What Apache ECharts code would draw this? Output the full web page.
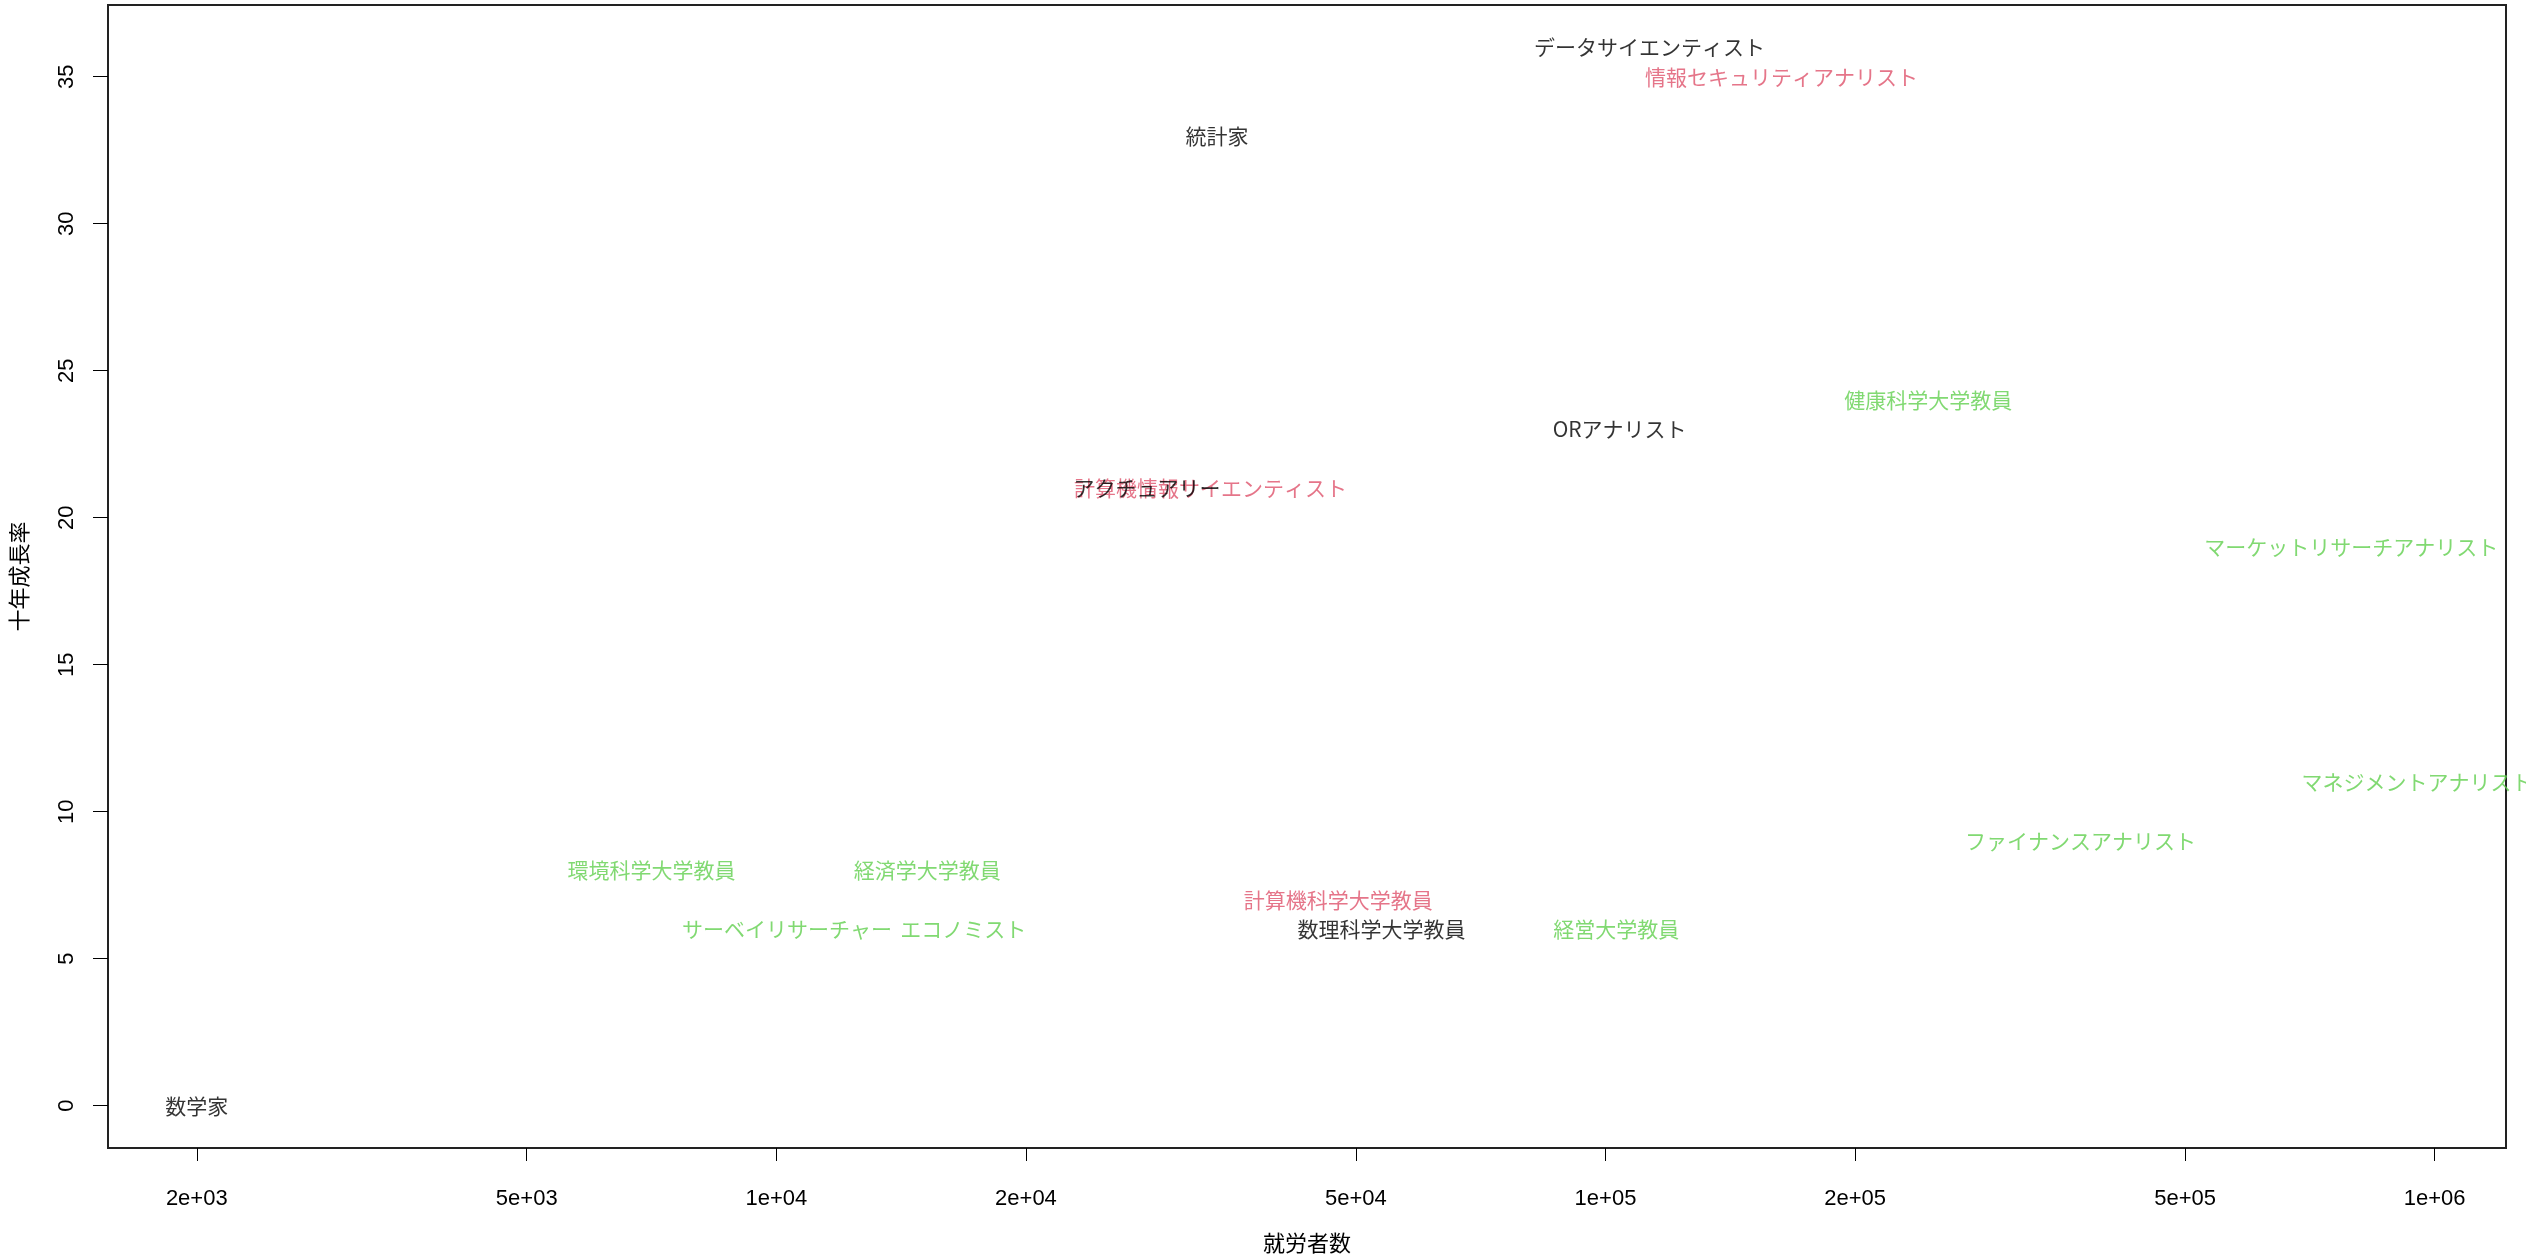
<!DOCTYPE html>
<html>
<head>
<meta charset="utf-8">
<title>就労者数と十年成長率</title>
<script src="https://cdn.jsdelivr.net/npm/echarts@6/dist/echarts.min.js"></script>
<style>
  html, body { margin: 0; padding: 0; background: #fff; }
  #view { width: 2526px; height: 1259px; }
</style>
</head>
<body>
<div id="view"></div>
<script>
// 職業ごとの就労者数（対数）と十年成長率
var blackJobs = ["データサイエンティスト", "統計家", "ORアナリスト", "アクチュアリー", "数理科学大学教員", "数学家"];
var blackWorkers = [113000, 34000, 104000, 28000, 53700, 2000];
var blackGrowth = [36, 33, 23, 21, 6, 0];

var pinkJobs = ["情報セキュリティアナリスト", "計算機情報サイエンティスト", "計算機科学大学教員"];
var pinkWorkers = [163000, 33400, 47600];
var pinkGrowth = [35, 21, 7];

var greenJobs = ["健康科学大学教員", "マーケットリサーチアナリスト", "マネジメントアナリスト", "ファイナンスアナリスト",
  "環境科学大学教員", "経済学大学教員", "経営大学教員", "サーベイリサーチャー", "エコノミスト"];
var greenWorkers = [245000, 793000, 952000, 374000, 7070, 15200, 103000, 10300, 16800];
var greenGrowth = [24, 19, 11, 9, 8, 8, 6, 6, 6];

var xTicks = [2000, 5000, 10000, 20000, 50000, 100000, 200000, 500000, 1000000];
var xTickLabels = ["2e+03", "5e+03", "1e+04", "2e+04", "5e+04", "1e+05", "2e+05", "5e+05", "1e+06"];
var yTicks = [0, 5, 10, 15, 20, 25, 30, 35];

function points(names, xs, ys) {
  return names.map(function (n, i) {
    return { name: n, value: [xs[i], ys[i]] };
  });
}

function labelSeries(names, xs, ys, color, z) {
  return {
    type: "scatter",
    symbolSize: 1,
    itemStyle: { color: "rgba(0,0,0,0)" },
    z: z,
    data: points(names, xs, ys),
    label: {
      show: true,
      position: "inside",
      formatter: function (p) { return p.name; },
      color: color,
      fontSize: 21,
      fontFamily: "Noto Sans CJK JP"
    },
    silent: true
  };
}

var tickFont = { fontFamily: "Liberation Sans", fontSize: 22, color: "#000" };

var option = {
  animation: false,
  backgroundColor: "#fff",
  grid: {
    left: 105,
    right: 20,
    top: 5,
    bottom: 102,
    show: true,
    borderColor: "#222",
    borderWidth: 2
  },
  xAxis: {
    type: "log",
    min: 1563,
    max: 1219000,
    name: "就労者数",
    nameLocation: "middle",
    nameGap: 84,
    nameTextStyle: { fontFamily: "Noto Sans CJK JP", fontSize: 22, color: "#000" },
    axisLine: { show: false, onZero: false },
    splitLine: { show: false },
    axisTick: {
      show: true,
      length: 13,
      lineStyle: { color: "#000", width: 1 },
      customValues: xTicks
    },
    axisLabel: Object.assign({
      margin: 40,
      customValues: xTicks,
      formatter: function (v) {
        var i = xTicks.indexOf(Math.round(v));
        return i >= 0 ? xTickLabels[i] : "";
      }
    }, tickFont)
  },
  yAxis: {
    type: "value",
    min: -1.44,
    max: 37.44,
    name: "十年成長率",
    nameLocation: "middle",
    nameGap: 78,
    nameTextStyle: { fontFamily: "Noto Sans CJK JP", fontSize: 22, color: "#000" },
    axisLine: { show: false, onZero: false },
    splitLine: { show: false },
    axisTick: {
      show: true,
      length: 15,
      lineStyle: { color: "#000", width: 1 },
      customValues: yTicks
    },
    axisLabel: Object.assign({
      margin: 30,
      rotate: 90,
      customValues: yTicks
    }, tickFont)
  },
  series: [
    labelSeries(greenJobs, greenWorkers, greenGrowth, "#61D04F", 2),
    labelSeries(pinkJobs, pinkWorkers, pinkGrowth, "#DF536B", 3),
    labelSeries(blackJobs, blackWorkers, blackGrowth, "#000", 4)
  ]
};

echarts.init(document.getElementById("view")).setOption(option);
</script>
</body>
</html>
